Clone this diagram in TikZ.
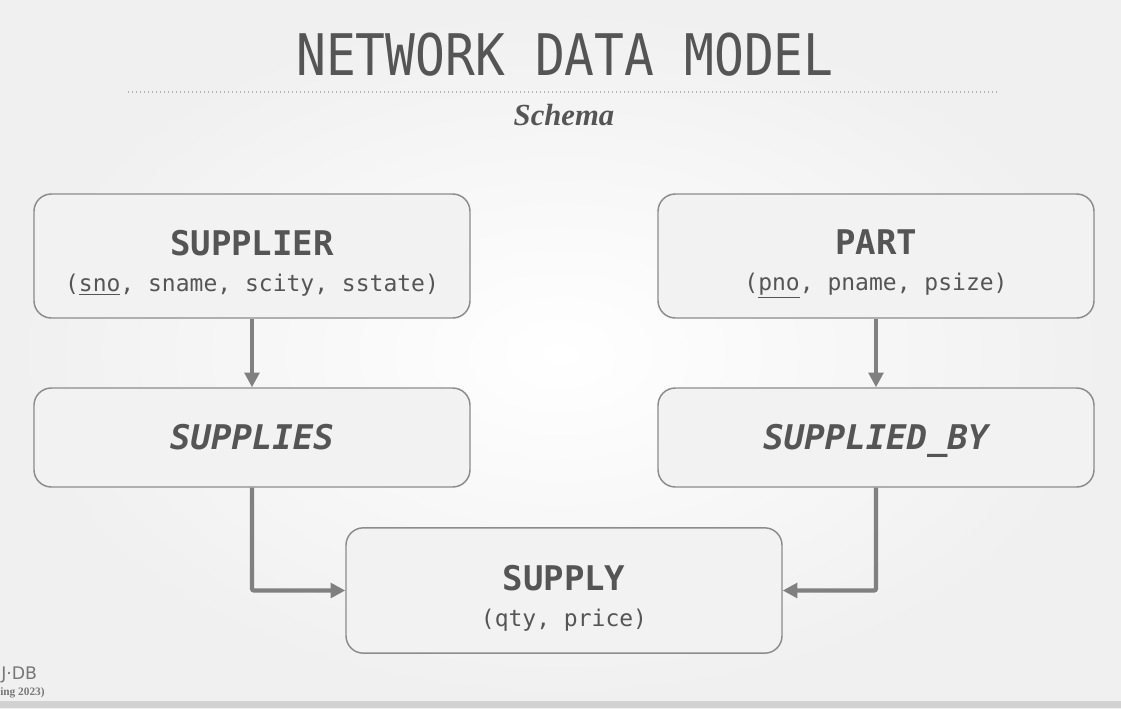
\documentclass[tikz,border=0pt]{standalone}
\usepackage{fontspec}
\setmainfont{Liberation Serif}
\setmonofont{DejaVu Sans Mono}
\newfontfamily\logofont{DejaVu Sans}
\usetikzlibrary{arrows.meta,positioning,calc}
\definecolor{Ink}{HTML}{555555}
\definecolor{Frame}{HTML}{8C8C8C}
\definecolor{BoxFill}{HTML}{F2F2F2}
\definecolor{Wire}{HTML}{808080}
\definecolor{Dots}{HTML}{B4B4B4}
\definecolor{Strip}{HTML}{D2D2D2}
\newcommand{\namefont}{\fontsize{25.5pt}{30pt}\selectfont\ttfamily\bfseries}
\newcommand{\relfont}{\fontsize{25.5pt}{30pt}\selectfont\ttfamily\bfseries\itshape}
\newcommand{\attrfont}{\fontsize{17.25pt}{20pt}\selectfont\ttfamily}
\newcommand{\toppad}{\rule{0pt}{30pt}}
\tikzset{
  record/.style={draw=Frame,line width=1.1pt,rounded corners=13pt,fill=BoxFill,text=Ink,align=center,minimum width=327pt,minimum height=93pt,font=\attrfont},
  relation/.style={record,minimum height=74.25pt,font=\relfont,text height=19pt,text depth=1pt},
  arrow/.style={-{Triangle[length=11pt,width=11pt]},line width=2.6pt,draw=Wire,rounded corners=1.5pt},
  elbow/.style={arrow,line width=3.2pt}
}
\begin{document}
\begin{tikzpicture}[x=0.75pt,y=-0.75pt]
\useasboundingbox (0,0) rectangle (1121,708);
\shade[inner color=white,outer color=black!6] (0,0) rectangle (1121,708);
\fill[Strip] (0,701) rectangle (1121,708);
% title
\node[anchor=base,text=Ink,font=\fontsize{43pt}{48pt}\selectfont\ttfamily] (title) at (565,75) {\scalebox{0.865}[1]{NETWORK DATA MODEL}};
\draw[Dots,line width=1pt,dotted] (128,92) coordinate (rulew) -- (998,92) coordinate (rulee);
\node[anchor=base,text=Ink,font=\fontsize{23pt}{26pt}\selectfont\bfseries\itshape] (subtitle) at (564,125) {Schema};
% records
\node[record] (supplier) at (252,256) {\toppad{\namefont SUPPLIER}\\[7pt](\underline{sno}, sname, scity, sstate)};
\node[record] (part) at (876,256) {\toppad{\namefont PART}\\[7pt](\underline{pno}, pname, psize)};
\node[relation] (supplies) at (252,437.5) {SUPPLIES};
\node[relation] (suppliedby) at (876,437.5) {SUPPLIED\_BY};
\node[record,minimum height=94pt] (supply) at (564,590.5) {\toppad{\namefont SUPPLY}\\[7pt](qty, price)};
% links
\draw[arrow] (supplier) -- (supplies);
\draw[arrow] (part) -- (suppliedby);
\draw[elbow] (supplies.south) |- (supply.west);
\draw[elbow] (suppliedby.south) |- (supply.east);
% footer
\node[anchor=base west,text=Ink!80,font=\fontsize{13pt}{16pt}\selectfont\logofont,inner sep=0pt] (logo) at (1,679) {J·DB};
\node[anchor=base west,text=Ink!80,font=\fontsize{8.5pt}{10pt}\selectfont\bfseries,inner sep=0pt] (term) at (0,695) {ing 2023)};
\end{tikzpicture}
\end{document}
